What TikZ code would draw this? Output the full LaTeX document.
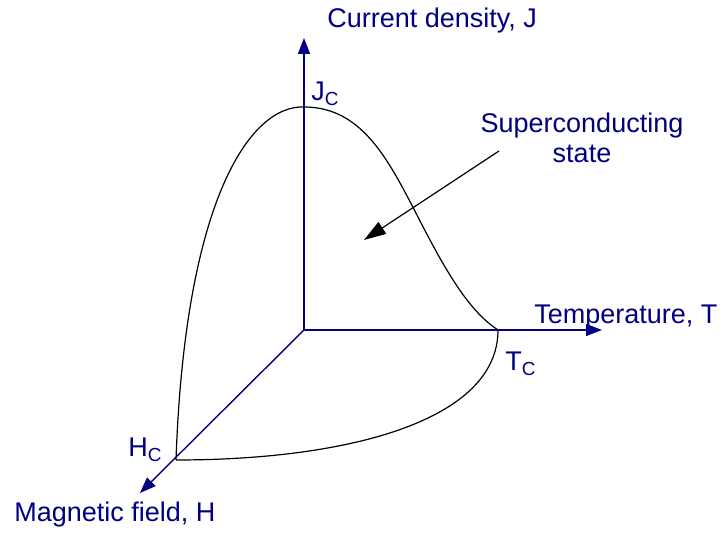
\documentclass[tikz,border=0pt]{standalone}
\usepackage{fontspec}
\setmainfont{Liberation Sans}
\usetikzlibrary{arrows.meta,positioning}
\definecolor{axisblue}{RGB}{0,0,128}
\tikzset{
  axis/.style={-{Triangle[length=8pt,width=6pt]},draw=axisblue,line width=0.7pt},
  boundary/.style={draw=black,line width=0.6pt},
  pointer/.style={-{Triangle[length=11pt,width=7pt]},line width=0.6pt},
  lbl/.style={text=axisblue,inner sep=0pt,font=\fontsize{13.5}{15}\selectfont}
}

\begin{document}
\begin{tikzpicture}[x=0.5pt,y=-0.5pt]
  \useasboundingbox (0,0) rectangle (724,533);
  \coordinate (origin) at (304,330);
  \coordinate (jtip) at (304,38);
  \coordinate (ttip) at (602,330);
  \coordinate (htip) at (140,493);
  \coordinate (jc) at (304,107);
  \coordinate (tc) at (498,330);
  \coordinate (hc) at (176,460);
  \coordinate (ptrstart) at (499,151);
  \coordinate (ptrend) at (364,240);

  \draw[axis] (origin) -- (jtip);
  \draw[axis] (origin) -- (ttip);
  \draw[axis] (origin) -- (htip);

  \draw[boundary] (jc) .. controls (370,107) and (395,175) .. (430,240)
    .. controls (455,287) and (475,315) .. (tc);
  \draw[boundary] (jc) .. controls (250,105) and (185,200) .. (hc);
  \draw[boundary] (hc) .. controls (350,460) and (498,420) .. (tc);
  \draw[pointer] (ptrstart) -- (ptrend);

  \node[lbl,anchor=base west] (jlabel) at (327,28) {Current density, J};
  \node[lbl,anchor=base west] (jclabel) at (311,101) {J\textsubscript{C}};
  \node[lbl,align=center] (statelabel) at (582,138) {Superconducting\\state};
  \node[lbl,anchor=base west] (tlabel) at (534,324) {Temperature, T};
  \node[lbl,anchor=base west] (tclabel) at (505,371) {T\textsubscript{C}};
  \node[lbl,anchor=base west] (hclabel) at (128,457) {H\textsubscript{C}};
  \node[lbl,anchor=base west] (hlabel) at (14,522) {Magnetic field, H};
\end{tikzpicture}
\end{document}
